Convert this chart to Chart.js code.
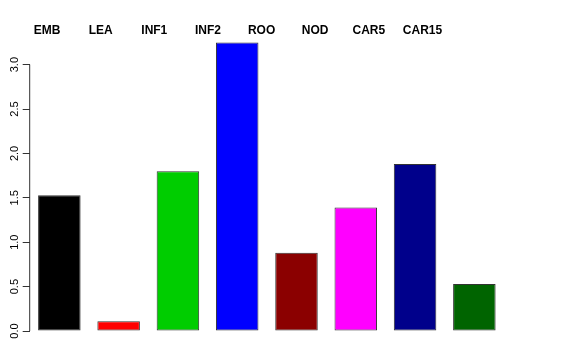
<!DOCTYPE html>
<html>
<head>
<meta charset="utf-8">
<style>
  html, body { margin: 0; padding: 0; background: #fff; }
  #wrap { width: 576px; height: 360px; position: relative; }
</style>
<script src="https://cdn.jsdelivr.net/npm/chart.js@4"></script>
</head>
<body>
<div id="wrap"><canvas id="chart" width="576" height="360"></canvas></div>
<script>
  const categories = ["EMB", "LEA", "INF1", "INF2", "ROO", "NOD", "CAR5", "CAR15"];
  const values = [1.53, 0.11, 1.80, 3.25, 0.88, 1.39, 1.88, 0.53];
  const barColors = ["#000000", "#ff0000", "#00cd00", "#0000ff", "#8b0000", "#ff00ff", "#00008b", "#006400"];
  const yTicks = [0, 0.5, 1, 1.5, 2, 2.5, 3];
  const yTickLabels = ["0.0", "0.5", "1.0", "1.5", "2.0", "2.5", "3.0"];

  const FONT = "'Liberation Sans', Arial, Helvetica, sans-serif";
  const LABEL_MIN = -0.323, LABEL_MAX = 8.52;

  // R-style left axis: line only spans the tick range, labels rotated
  const rAxis = {
    id: "rAxis",
    afterDraw(chart) {
      const ctx = chart.ctx;
      const y = chart.scales.y;
      const x0 = y.right;
      ctx.save();
      ctx.strokeStyle = "#333";
      ctx.lineWidth = 1;
      ctx.beginPath();
      ctx.moveTo(x0, y.getPixelForValue(yTicks[0]));
      ctx.lineTo(x0, y.getPixelForValue(yTicks[yTicks.length - 1]));
      ctx.stroke();
      ctx.fillStyle = "#000";
      ctx.font = "11px " + FONT;
      ctx.textAlign = "center";
      ctx.textBaseline = "alphabetic";
      yTicks.forEach((v, i) => {
        ctx.save();
        ctx.translate(17.5, y.getPixelForValue(v));
        ctx.rotate(-Math.PI / 2);
        ctx.fillText(yTickLabels[i], 0, 0);
        ctx.restore();
      });
      ctx.restore();
    },
  };

  new Chart(document.getElementById("chart"), {
    type: "bar",
    data: {
      labels: categories,
      datasets: [{
        data: values,
        backgroundColor: barColors,
        borderColor: "#333",
        borderWidth: 1,
        borderSkipped: false,
        categoryPercentage: 1,
        barPercentage: 0.717,
      }],
    },
    options: {
      responsive: false,
      animation: false,
      layout: { padding: { left: 0, right: 72, top: 0, bottom: 29 } },
      plugins: { legend: { display: false }, tooltip: { enabled: false } },
      scales: {
        x: { display: false },
        x2: {
          type: "linear",
          position: "top",
          offset: false,
          bounds: "data",
          min: LABEL_MIN,
          max: LABEL_MAX,
          grid: { display: false, drawTicks: false, offset: false },
          border: { display: false },
          afterBuildTicks(scale) {
            scale.ticks = categories.map((_, i) => ({ value: i }));
          },
          afterFit(scale) { scale.height = 38; },
          ticks: {
            autoSkip: false,
            maxRotation: 0,
            padding: 0,
            color: "#000",
            font: { family: FONT, size: 12, weight: "bold" },
            callback: (v) => categories[v] ?? "",
          },
        },
        y: {
          min: 0,
          max: 3.3,
          afterBuildTicks(scale) {
            scale.ticks = yTicks.map((v) => ({ value: v }));
          },
          afterFit(scale) { scale.width = 29.7; },
          grid: { drawOnChartArea: false, drawTicks: true, tickLength: 7, color: "#333" },
          border: { display: false },
          ticks: { display: false },
        },
      },
    },
    plugins: [rAxis],
  });
</script>
</body>
</html>
